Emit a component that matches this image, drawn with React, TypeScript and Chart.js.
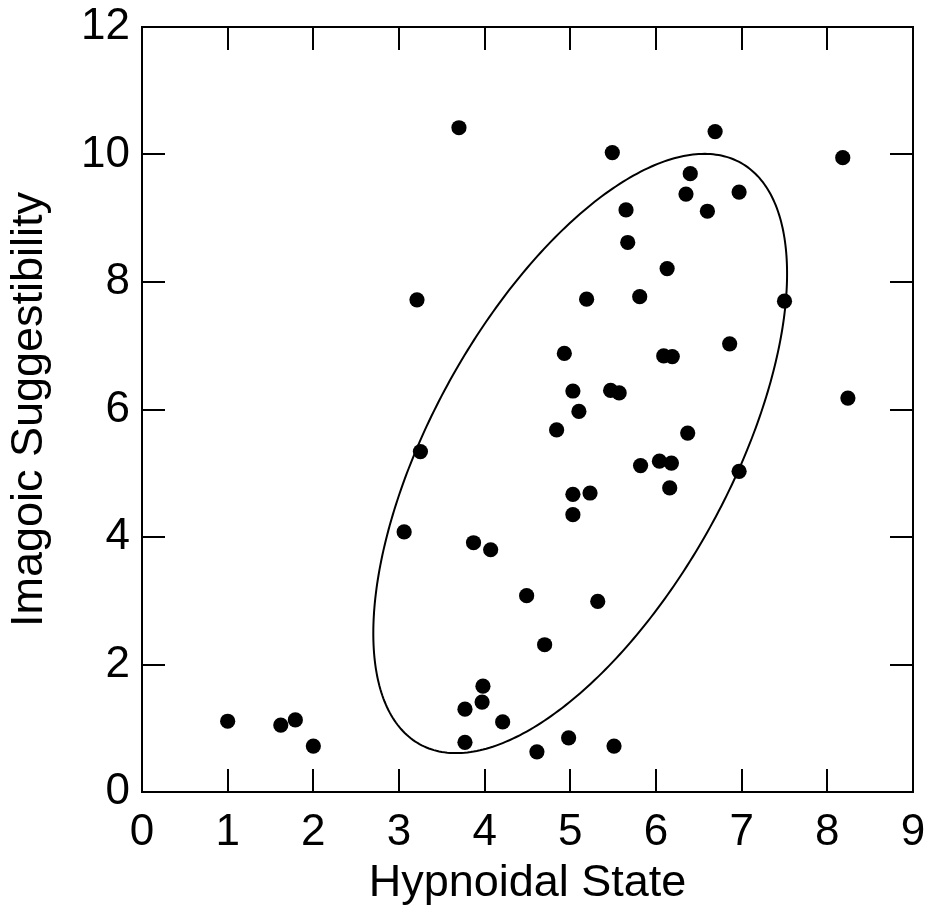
import React, { useEffect, useRef } from "react";
import { Chart, registerables } from "chart.js";

Chart.register(...registerables);

// ---- Data ----
const X_TICKS = [0, 1, 2, 3, 4, 5, 6, 7, 8, 9];
const Y_TICKS = [0, 2, 4, 6, 8, 10, 12];

const X_TITLE = "Hypnoidal State";
const Y_TITLE = "Imagoic Suggestibility";

const HYPNOIDAL_STATE = [
  1.0, 1.62, 1.79, 2.0, 3.7, 5.49, 6.69, 8.18, 6.4, 6.35, 6.97, 5.65, 6.6, 5.67,
  6.13, 3.21, 5.19, 5.81, 7.5, 4.93, 6.09, 6.19, 6.86, 5.03, 5.47, 5.57, 5.1,
  4.84, 3.25, 6.37, 5.82, 6.04, 6.18, 6.97, 6.16, 5.03, 5.23, 5.03, 3.06, 3.87,
  4.07, 4.49, 5.32, 4.7, 3.98, 3.97, 3.77, 4.21, 3.77, 4.61, 4.98, 5.51, 8.24,
];
const IMAGOIC_SUGGESTIBILITY = [
  1.11, 1.05, 1.13, 0.72, 10.42, 10.03, 10.36, 9.95, 9.7, 9.38, 9.41, 9.13, 9.11,
  8.62, 8.21, 7.72, 7.73, 7.77, 7.7, 6.88, 6.84, 6.83, 7.03, 6.29, 6.3, 6.26,
  5.97, 5.68, 5.34, 5.63, 5.12, 5.19, 5.16, 5.03, 4.77, 4.67, 4.69, 4.35, 4.08,
  3.91, 3.8, 3.08, 2.99, 2.31, 1.66, 1.41, 1.3, 1.1, 0.78, 0.63, 0.85, 0.72, 6.18,
];

// Confidence ellipse (data units)
const ELLIPSE_CENTER_X = 5.115;
const ELLIPSE_CENTER_Y = 5.31;
const ELLIPSE_HALF_WIDTH = 2.415;
const ELLIPSE_HALF_HEIGHT = 4.7;
const ELLIPSE_CORRELATION = 0.6;

const FONT_FAMILY = "'Liberation Sans', Arial, Helvetica, sans-serif";

const framePlugin = {
  id: "frameAndTicks",
  beforeDatasetsDraw(chart: any) {
    const { ctx } = chart;
    const xs = chart.scales.x;
    const ys = chart.scales.y;
    const delta = Math.acos(ELLIPSE_CORRELATION);
    const steps = 360;
    ctx.save();
    ctx.beginPath();
    for (let i = 0; i <= steps; i++) {
      const t = (i / steps) * Math.PI * 2;
      const vx = ELLIPSE_CENTER_X + ELLIPSE_HALF_WIDTH * Math.cos(t);
      const vy = ELLIPSE_CENTER_Y + ELLIPSE_HALF_HEIGHT * Math.cos(t + delta);
      const px = xs.getPixelForValue(vx);
      const py = ys.getPixelForValue(vy);
      if (i === 0) ctx.moveTo(px, py);
      else ctx.lineTo(px, py);
    }
    ctx.closePath();
    ctx.lineWidth = 2;
    ctx.strokeStyle = "#000";
    ctx.stroke();
    ctx.restore();
  },
  afterDraw(chart: any) {
    const { ctx, chartArea } = chart;
    const { left, right, top, bottom } = chartArea;
    const xs = chart.scales.x;
    const ys = chart.scales.y;
    const len = 23;
    ctx.save();
    ctx.strokeStyle = "#000";
    ctx.lineWidth = 2;
    ctx.beginPath();
    xs.ticks.forEach((t: any) => {
      const px = Math.round(xs.getPixelForValue(t.value));
      ctx.moveTo(px, bottom);
      ctx.lineTo(px, bottom - len);
      ctx.moveTo(px, top);
      ctx.lineTo(px, top + len);
    });
    ys.ticks.forEach((t: any) => {
      const py = Math.round(ys.getPixelForValue(t.value));
      ctx.moveTo(left, py);
      ctx.lineTo(left + len, py);
      ctx.moveTo(right, py);
      ctx.lineTo(right - len, py);
    });
    ctx.stroke();
    ctx.strokeRect(left, top, right - left, bottom - top);
    ctx.restore();
  },
};

export default function App() {
  const canvasRef = useRef<HTMLCanvasElement | null>(null);

  useEffect(() => {
    document.body.style.margin = "0";
    const canvas = canvasRef.current;
    if (!canvas) return;
    const points = HYPNOIDAL_STATE.map((x, i) => ({ x, y: IMAGOIC_SUGGESTIBILITY[i] }));
    const chart = new Chart(canvas, {
      type: "scatter",
      data: {
        datasets: [
          {
            data: points,
            backgroundColor: "#000",
            borderColor: "#000",
            pointRadius: 7.6,
            pointHoverRadius: 7.6,
            borderWidth: 0,
          },
        ],
      },
      options: {
        responsive: false,
        animation: false,
        devicePixelRatio: 1,
        layout: { padding: { top: 27, right: 16, bottom: 0, left: 0 } },
        plugins: {
          legend: { display: false },
          tooltip: { enabled: false },
        },
        scales: {
          x: {
            type: "linear",
            min: 0,
            max: 9,
            afterBuildTicks: (scale: any) => {
              scale.ticks = X_TICKS.map((v) => ({ value: v }));
            },
            afterFit: (scale: any) => {
              scale.height = 121;
              scale.paddingLeft = 0;
              scale.paddingRight = 0;
              scale.paddingTop = 0;
              scale.paddingBottom = 0;
            },
            grid: { display: false, drawTicks: false },
            border: { display: false },
            ticks: {
              color: "#000",
              padding: 14,
              font: { family: FONT_FAMILY, size: 44 },
              callback: (v: any) => String(v),
            },
            title: {
              display: true,
              text: X_TITLE,
              color: "#000",
              font: { family: FONT_FAMILY, size: 45 },
              padding: { top: 0, bottom: 2 },
            },
          },
          y: {
            type: "linear",
            min: 0,
            max: 12,
            afterBuildTicks: (scale: any) => {
              scale.ticks = Y_TICKS.map((v) => ({ value: v }));
            },
            afterFit: (scale: any) => {
              scale.width = 142;
              scale.paddingLeft = 0;
              scale.paddingRight = 0;
              scale.paddingTop = 0;
              scale.paddingBottom = 0;
            },
            grid: { display: false, drawTicks: false },
            border: { display: false },
            ticks: {
              color: "#000",
              padding: 12,
              font: { family: FONT_FAMILY, size: 44 },
              callback: (v: any) => String(v),
            },
            title: {
              display: true,
              text: Y_TITLE,
              color: "#000",
              font: { family: FONT_FAMILY, size: 45 },
              padding: { top: 3, bottom: 0 },
            },
          },
        },
      },
      plugins: [framePlugin],
    });
    return () => chart.destroy();
  }, []);

  return (
    <div style={{ position: "absolute", left: 0, top: 0, width: 929, height: 913, background: "#fff" }}>
      <canvas ref={canvasRef} width={929} height={913} />
    </div>
  );
}
